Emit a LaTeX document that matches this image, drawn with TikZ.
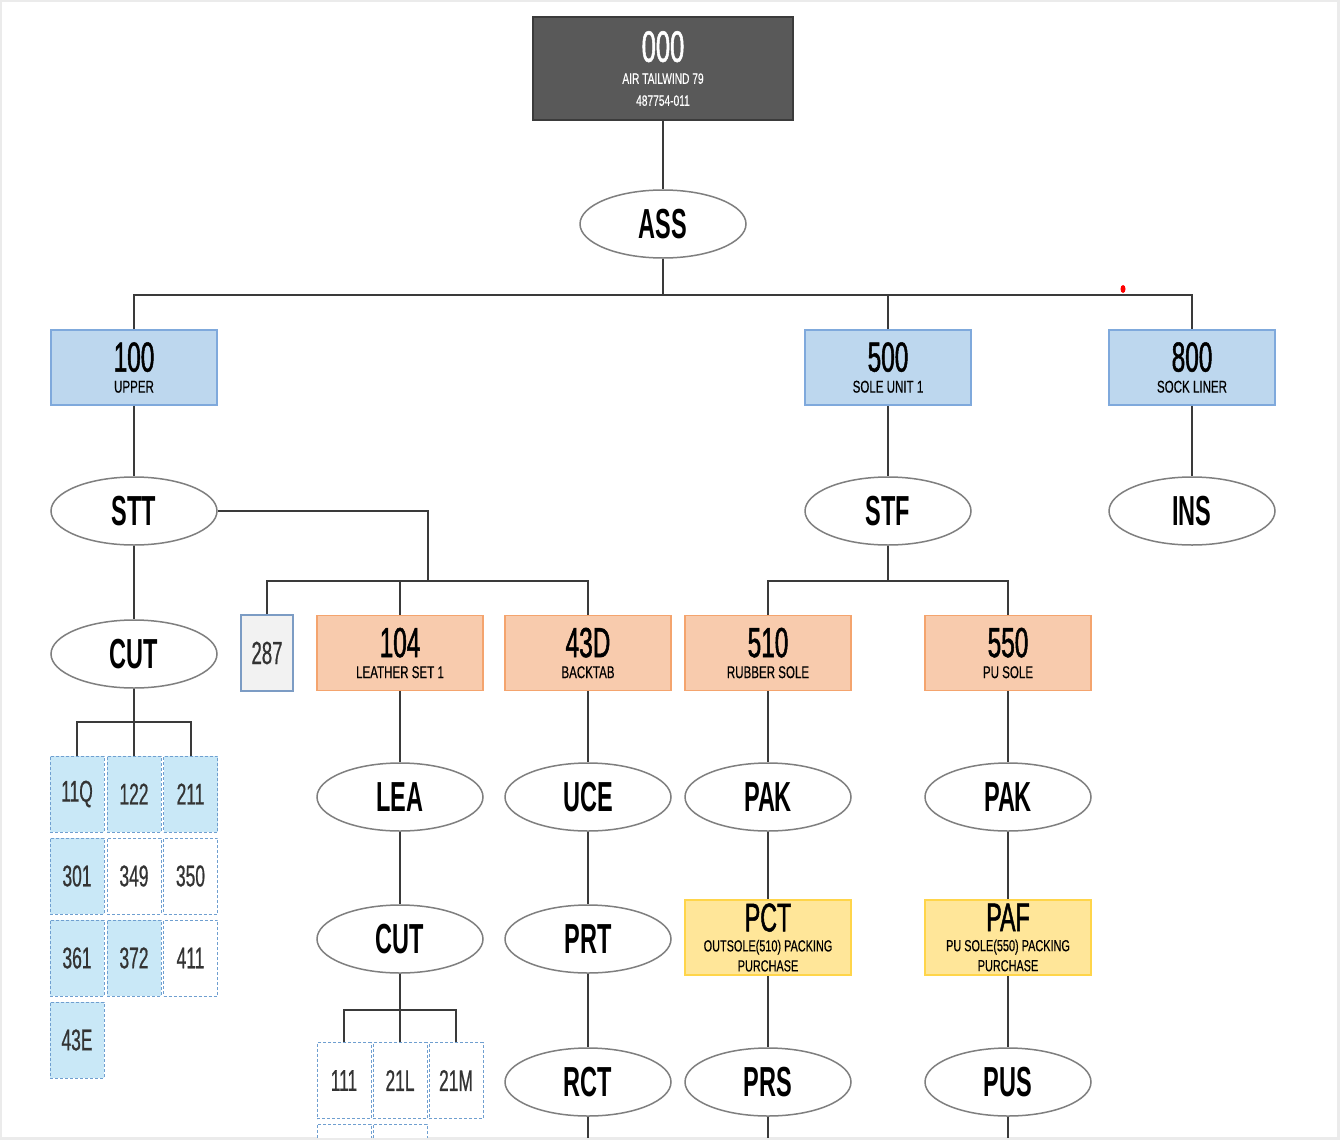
\documentclass[tikz,border=0pt]{standalone}
\usepackage{fontspec}
\setmainfont{Liberation Sans}
\newfontfamily\bigf[FakeStretch=0.58,FakeBold=1.2]{Liberation Sans}
\newfontfamily\cellf[FakeStretch=0.58,FakeBold=0.6]{Liberation Sans}
\newfontfamily\subf[FakeStretch=0.68,FakeBold=0.4]{Liberation Sans}
\newfontfamily\ellf[FakeStretch=0.56]{Liberation Sans}
\newcommand\myfs[2]{\fontsize{#1}{#2}\selectfont}
\usetikzlibrary{shapes.geometric}
\definecolor{frameC}{HTML}{EBEBEB}
\definecolor{lineC}{HTML}{3A3A3A}
\definecolor{ellD}{HTML}{7F7F7F}
\definecolor{topF}{HTML}{595959}
\definecolor{topD}{HTML}{3B3B3B}
\definecolor{blueF}{HTML}{BDD7EE}
\definecolor{blueD}{HTML}{7FA9DC}
\definecolor{orangeF}{HTML}{F8CBAD}
\definecolor{orangeD}{HTML}{F4A46E}
\definecolor{yellowF}{HTML}{FFE699}
\definecolor{yellowD}{HTML}{FFD54A}
\definecolor{cellF}{HTML}{C9E8F7}
\definecolor{cellD}{HTML}{6F9FD0}
\definecolor{cellT}{HTML}{333333}
\definecolor{greyF}{HTML}{F2F2F2}
\definecolor{greyD}{HTML}{7C9CC4}
\tikzset{
  conn/.style={draw=lineC, line width=2pt},
  ell/.style={ellipse, draw=ellD, line width=1.5pt, fill=white, minimum width=166pt, minimum height=68pt, inner sep=0pt, font=\ellf\bfseries\myfs{42}{42}},
  box/.style={rectangle, minimum width=166pt, minimum height=75pt, inner sep=0pt, align=center, line width=1.5pt, font=\subf\myfs{17}{21}},
  bluebox/.style={box, fill=blueF, draw=blueD},
  orangebox/.style={box, fill=orangeF, draw=orangeD},
  yellowbox/.style={box, fill=yellowF, draw=yellowD, font=\subf\myfs{16}{20}},
  cell/.style={rectangle, minimum width=54pt, minimum height=76pt, inner sep=0pt, draw=cellD, densely dashed, line width=1pt, font=\cellf\myfs{30}{30}, text=cellT},
  bluecell/.style={cell, fill=cellF},
  whitecell/.style={cell, fill=white}
}
\begin{document}
\begin{tikzpicture}[x=1pt, y=-1pt]
\useasboundingbox (0,0) rectangle (1340,1140);
\fill[frameC] (0,0) rectangle (1340,1140);
\begin{scope}
\clip (2,2) rectangle (1337,1137);
\fill[white] (2,2) rectangle (1337,1137);

% top
\node[rectangle, minimum width=260pt, minimum height=103pt, inner sep=0pt, fill=topF, draw=topD, line width=2pt, align=center, text=white, font=\subf\myfs{15}{22}] (top) at (663,68.5) {{\bigf\myfs{44}{44}000}\\AIR TAILWIND 79\\487754-011};
\node[ell] (ass) at (663,224) {ASS};

% level 1
\node[bluebox] (u100) at (134,367.5) {{\bigf\myfs{42}{42}100}\\UPPER};
\node[bluebox] (u500) at (888,367.5) {{\bigf\myfs{42}{42}500}\\SOLE UNIT 1};
\node[bluebox] (u800) at (1192,367.5) {{\bigf\myfs{42}{42}800}\\SOCK LINER};

\node[ell] (stt) at (134,511) {STT};
\node[ell] (stf) at (888,511) {STF};
\node[ell] (ins) at (1192,511) {INS};

\node[ell] (cut1) at (134,654) {CUT};

% level 3 boxes
\node[rectangle, minimum width=52pt, minimum height=76pt, inner sep=0pt, fill=greyF, draw=greyD, line width=1.5pt, font=\cellf\myfs{32}{32}, text=cellT] (b287) at (267,653) {287};
\node[orangebox] (b104) at (400,653) {{\bigf\myfs{42}{42}104}\\LEATHER SET 1};
\node[orangebox] (b43d) at (588,653) {{\bigf\myfs{42}{42}43D}\\BACKTAB};
\node[orangebox] (b510) at (768,653) {{\bigf\myfs{42}{42}510}\\RUBBER SOLE};
\node[orangebox] (b550) at (1008,653) {{\bigf\myfs{42}{42}550}\\PU SOLE};

% grid under CUT
\node[bluecell]  (c11q) at (77,794) {11Q};
\node[bluecell]  (c122) at (134,794) {122};
\node[bluecell]  (c211) at (190.5,794) {211};
\node[bluecell]  (c301) at (77,876) {301};
\node[whitecell] (c349) at (134,876) {349};
\node[whitecell] (c350) at (190.5,876) {350};
\node[bluecell]  (c361) at (77,958) {361};
\node[bluecell]  (c372) at (134,958) {372};
\node[whitecell] (c411) at (190.5,958) {411};
\node[bluecell]  (c43e) at (77,1040) {43E};

% column 104
\node[ell] (lea) at (400,797) {LEA};
\node[ell] (cut2) at (400,939) {CUT};
\node[whitecell] (c111) at (344,1080.5) {111};
\node[whitecell] (c21l) at (400,1080.5) {21L};
\node[whitecell] (c21m) at (456,1080.5) {21M};
\node[whitecell] (cx1) at (344,1162) {};
\node[whitecell] (cx2) at (400,1162) {};

% column 43D
\node[ell] (uce) at (588,797) {UCE};
\node[ell] (prt) at (588,939) {PRT};
\node[ell] (rct) at (588,1082) {RCT};

% column 510
\node[ell] (pak1) at (768,797) {PAK};
\node[yellowbox] (pct) at (768,937.5) {{\bigf\myfs{40}{40}PCT}\\OUTSOLE(510) PACKING\\PURCHASE};
\node[ell] (prs) at (768,1082) {PRS};

% column 550
\node[ell] (pak2) at (1008,797) {PAK};
\node[yellowbox] (paf) at (1008,937.5) {{\bigf\myfs{40}{40}PAF}\\PU SOLE(550) PACKING\\PURCHASE};
\node[ell] (pus) at (1008,1082) {PUS};

% junction coordinates
\coordinate (j0) at (663,295);
\coordinate (j1) at (428,581);
\coordinate (j2) at (888,581);
\coordinate (j3) at (134,722);
\coordinate (j4) at (400,1010);
\coordinate (e1) at (588,1140);
\coordinate (e2) at (768,1140);
\coordinate (e3) at (1008,1140);

% connectors
\draw[conn] (top.south) -- (ass.north);
\draw[conn] (ass.south) -- (j0);
\draw[conn] (u100.north) -- (u100.north |- j0) -- (u800.north |- j0) -- (u800.north);
\draw[conn] (u500.north) -- (u500.north |- j0);
\draw[conn] (u100.south) -- (stt.north);
\draw[conn] (u500.south) -- (stf.north);
\draw[conn] (u800.south) -- (ins.north);
\draw[conn] (stt.south) -- (cut1.north);
\draw[conn] (stt.east) -| (j1);
\draw[conn] (b287.north) -- (b287.north |- j1) -- (b43d.north |- j1) -- (b43d.north);
\draw[conn] (b104.north) -- (b104.north |- j1);
\draw[conn] (stf.south) -- (j2);
\draw[conn] (b510.north) -- (b510.north |- j2) -- (b550.north |- j2) -- (b550.north);
\draw[conn] (cut1.south) -- (j3);
\draw[conn] (c11q.north) -- (c11q.north |- j3) -- (c211.north |- j3) -- (c211.north);
\draw[conn] (c122.north) -- (c122.north |- j3);
\draw[conn] (b104.south) -- (lea.north);
\draw[conn] (lea.south) -- (cut2.north);
\draw[conn] (cut2.south) -- (j4);
\draw[conn] (c111.north) -- (c111.north |- j4) -- (c21m.north |- j4) -- (c21m.north);
\draw[conn] (c21l.north) -- (c21l.north |- j4);
\draw[conn] (b43d.south) -- (uce.north);
\draw[conn] (uce.south) -- (prt.north);
\draw[conn] (prt.south) -- (rct.north);
\draw[conn] (rct.south) -- (e1);
\draw[conn] (b510.south) -- (pak1.north);
\draw[conn] (pak1.south) -- (pct.north);
\draw[conn] (pct.south) -- (prs.north);
\draw[conn] (prs.south) -- (e2);
\draw[conn] (b550.south) -- (pak2.north);
\draw[conn] (pak2.south) -- (paf.north);
\draw[conn] (paf.south) -- (pus.north);
\draw[conn] (pus.south) -- (e3);

% red dot
\fill[red] (1123,289) ellipse (2.5 and 4);
\end{scope}
\end{tikzpicture}
\end{document}
